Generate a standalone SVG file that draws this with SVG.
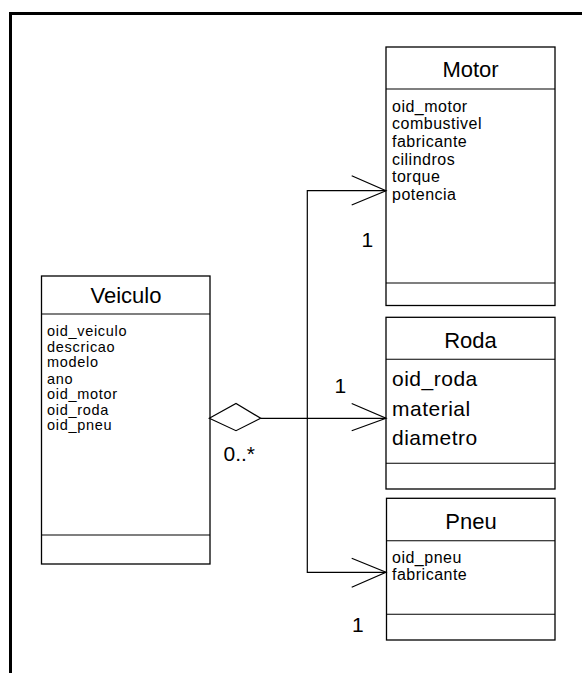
<svg xmlns="http://www.w3.org/2000/svg" width="582" height="673" viewBox="0 0 582 673">
<style>
.box{fill:#fff;stroke:#000;stroke-width:1.3}
.sep{stroke:#000;stroke-width:1.1}
.title{font-family:"Liberation Sans",Arial,sans-serif;font-size:22px;text-anchor:middle;fill:#000}
.attr{font-family:"Liberation Sans",Arial,sans-serif;font-size:16px;letter-spacing:0.5px;fill:#000}
.attrS{font-family:"Liberation Sans",Arial,sans-serif;font-size:14.5px;letter-spacing:0.7px;fill:#000}
.attrL{font-family:"Liberation Sans",Arial,sans-serif;font-size:21px;letter-spacing:0.5px;fill:#000}
.lbl{font-family:"Liberation Sans",Arial,sans-serif;font-size:21px;fill:#000}
.conn{fill:none;stroke:#000;stroke-width:1.2}
</style>
<rect width="582" height="673" fill="#fff"/>
<path d="M10.5,673 V13.5 H582" fill="none" stroke="#000" stroke-width="3"/>

<g id="motor">
<rect class="box" x="386" y="47" width="169" height="258.5"/>
<line class="sep" x1="386" y1="89" x2="555" y2="89"/>
<line class="sep" x1="386" y1="283" x2="555" y2="283"/>
<text class="title" x="470.5" y="77">Motor</text>
<text class="attr" x="392" y="111.7">oid_motor</text>
<text class="attr" x="392" y="129.3">combustivel</text>
<text class="attr" x="392" y="147">fabricante</text>
<text class="attr" x="392" y="164.7">cilindros</text>
<text class="attr" x="392" y="182.3">torque</text>
<text class="attr" x="392" y="200">potencia</text>
</g>

<g id="veiculo">
<rect class="box" x="41.5" y="276" width="168.5" height="288"/>
<line class="sep" x1="41.5" y1="314" x2="210" y2="314"/>
<line class="sep" x1="41.5" y1="535" x2="210" y2="535"/>
<text class="title" x="126" y="303">Veiculo</text>
<text class="attrS" x="47" y="336">oid_veiculo</text>
<text class="attrS" x="47" y="351.5">descricao</text>
<text class="attrS" x="47" y="367">modelo</text>
<text class="attrS" x="47" y="383.5">ano</text>
<text class="attrS" x="47" y="399">oid_motor</text>
<text class="attrS" x="47" y="414.5">oid_roda</text>
<text class="attrS" x="47" y="430">oid_pneu</text>
</g>

<g id="roda">
<rect class="box" x="386" y="317.3" width="169" height="171.7"/>
<line class="sep" x1="386" y1="359.3" x2="555" y2="359.3"/>
<line class="sep" x1="386" y1="463.3" x2="555" y2="463.3"/>
<text class="title" x="470.5" y="348.3">Roda</text>
<text class="attrL" x="392" y="386">oid_roda</text>
<text class="attrL" x="392" y="416">material</text>
<text class="attrL" x="392" y="445">diametro</text>
</g>

<g id="pneu">
<rect class="box" x="386.5" y="498.3" width="168.5" height="141.7"/>
<line class="sep" x1="386.5" y1="540.7" x2="555" y2="540.7"/>
<line class="sep" x1="386.5" y1="614.3" x2="555" y2="614.3"/>
<text class="title" x="471" y="529.3">Pneu</text>
<text class="attr" x="392" y="562.7">oid_pneu</text>
<text class="attr" x="392" y="580">fabricante</text>
</g>

<g id="connectors">
<polygon points="209.3,418.3 236,403.5 260.7,418.3 236,430.7" fill="#fff" stroke="#000" stroke-width="1.2"/>
<line class="conn" x1="260.7" y1="418.3" x2="386" y2="418.3"/>
<polyline class="conn" points="386,190.7 307.3,190.7 307.3,572.3 386,572.3"/>
<polyline class="conn" points="351.7,175.7 386,190.7 351.7,205"/>
<polyline class="conn" points="351.7,403.5 386,418.3 351.7,430.7"/>
<polyline class="conn" points="351.7,558.3 386,572.3 351.7,587.3"/>
<text class="lbl" x="361.5" y="247.3">1</text>
<text class="lbl" x="334.5" y="392.7">1</text>
<text class="lbl" x="223.5" y="460.7">0..*</text>
<text class="lbl" x="352" y="632.3">1</text>
</g>
</svg>
